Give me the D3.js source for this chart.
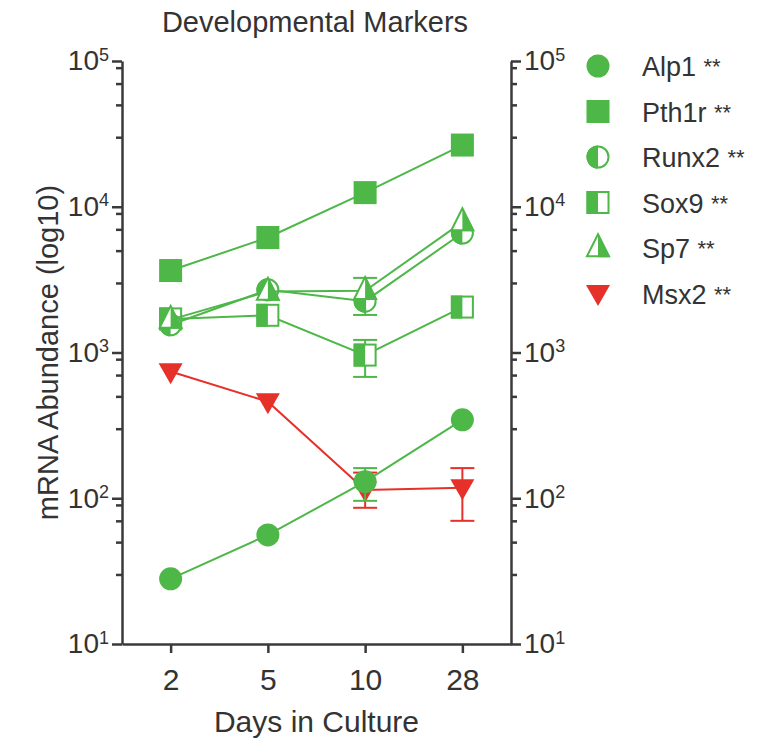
<!DOCTYPE html>
<html>
<head>
<meta charset="utf-8">
<script src="https://cdn.jsdelivr.net/npm/d3@7"></script>
<style>
  body { margin: 0; background: #fff; }
  svg { font-family: Arial, "Liberation Sans", sans-serif; }
</style>
</head>
<body>
<div id="chart"></div>
<script>
// days on the x axis
const days = ["2", "5", "10", "28"];

// mean mRNA abundance per marker
const alp1 = [28, 56, 130, 345];
const pth1r = [3650, 6150, 12500, 26500];
const runx2 = [1550, 2690, 2250, 6600];
const sox9 = [1700, 1800, 960, 2050];
const sp7 = [1680, 2620, 2650, 7850];
const msx2 = [740, 460, 114, 118];

// error bars [low, high], null where hidden under the marker
const alp1Err = [null, null, [96, 161], null];
const pth1rErr = [null, null, null, null];
const runx2Err = [null, null, null, null];
const sox9Err = [null, null, [680, 1220], null];
const sp7Err = [null, null, [1810, 3250], null];
const msx2Err = [null, null, [86, 150], [70, 161]];

const majorTicks = [1e1, 1e2, 1e3, 1e4, 1e5];
const minorSteps = [3, 5, 7, 9];

const green = "#4db748";
const red = "#e5312a";
const axisColor = "#3a3a3a";

const series = [
  { name: "Alp1", values: alp1, err: alp1Err, color: green, shape: "circle" },
  { name: "Pth1r", values: pth1r, err: pth1rErr, color: green, shape: "square" },
  { name: "Runx2", values: runx2, err: runx2Err, color: green, shape: "halfCircle" },
  { name: "Sox9", values: sox9, err: sox9Err, color: green, shape: "halfSquare" },
  { name: "Sp7", values: sp7, err: sp7Err, color: green, shape: "halfTriangle" },
  { name: "Msx2", values: msx2, err: msx2Err, color: red, shape: "triangleDown" }
];

const W = 773, H = 743;
const plotLeft = 122, plotRight = 511, plotTop = 61, plotBottom = 644;

const svg = d3.select("#chart").append("svg").attr("width", W).attr("height", H);

const x = d3.scalePoint().domain(days).range([plotLeft, plotRight]).padding(0.5);
const y = d3.scaleLog().domain([10, 1e5]).range([plotBottom, plotTop]);

// minor ticks: 3,5,7,9 times each decade
const minors = [];
[10, 100, 1000, 10000].forEach(d => minorSteps.forEach(s => minors.push(d * s)));

function supLabels(sel, anchor) {
  sel.selectAll(".tick text").each(function(d) {
    const t = d3.select(this);
    t.text(null).attr("fill", "#333").style("font-size", "28px").attr("text-anchor", anchor);
    t.append("tspan").text("10");
    t.append("tspan").attr("dy", "-0.55em").style("font-size", "18px").text(Math.round(Math.log10(d)));
  });
}

// left axis
const gL = svg.append("g").attr("transform", `translate(${plotLeft},0)`);
gL.call(d3.axisLeft(y).tickValues(majorTicks).tickSize(10).tickSizeOuter(0).tickPadding(3));
gL.call(supLabels, "end");
const gLm = svg.append("g").attr("transform", `translate(${plotLeft},0)`);
gLm.call(d3.axisLeft(y).tickValues(minors).tickSize(6).tickFormat(""));
gLm.select(".domain").remove();

// right axis
const gR = svg.append("g").attr("transform", `translate(${plotRight},0)`);
gR.call(d3.axisRight(y).tickValues(majorTicks).tickSize(10).tickSizeOuter(0).tickPadding(3));
gR.call(supLabels, "start");
const gRm = svg.append("g").attr("transform", `translate(${plotRight},0)`);
gRm.call(d3.axisRight(y).tickValues(minors).tickSize(6).tickFormat(""));
gRm.select(".domain").remove();

// bottom axis
const gB = svg.append("g").attr("transform", `translate(0,${plotBottom})`);
gB.call(d3.axisBottom(x).tickSize(9).tickSizeOuter(0).tickPadding(8));
gB.selectAll(".tick text").attr("fill", "#333").style("font-size", "30px").attr("dy", "0.95em");

svg.selectAll(".domain, .tick line").attr("stroke", axisColor).attr("stroke-width", 2.5);

// titles
svg.append("text").attr("x", 315).attr("y", 32).attr("text-anchor", "middle")
  .style("font-size", "29px").attr("fill", "#333").text("Developmental Markers");
svg.append("text").attr("x", (plotLeft + plotRight) / 2).attr("y", 732).attr("text-anchor", "middle")
  .style("font-size", "30px").attr("fill", "#333").text("Days in Culture");
svg.append("text").attr("transform", `translate(58,${(plotTop + plotBottom) / 2}) rotate(-90)`)
  .attr("text-anchor", "middle").style("font-size", "29px").attr("fill", "#333")
  .text("mRNA Abundance (log10)");

// marker drawing
function drawMarker(g, shape, color) {
  const r = 11.5;
  if (shape === "circle") {
    g.append("circle").attr("r", r).attr("fill", color);
  } else if (shape === "square") {
    g.append("rect").attr("x", -r).attr("y", -r).attr("width", 2 * r).attr("height", 2 * r).attr("fill", color);
  } else if (shape === "halfCircle") {
    g.append("circle").attr("r", r - 1).attr("fill", "#fff").attr("stroke", color).attr("stroke-width", 2);
    g.append("path").attr("d", `M0,${-r} A${r},${r} 0 0 0 0,${r} Z`).attr("fill", color);
  } else if (shape === "halfSquare") {
    g.append("rect").attr("x", -r + 1).attr("y", -r + 1).attr("width", 2 * r - 2).attr("height", 2 * r - 2)
      .attr("fill", "#fff").attr("stroke", color).attr("stroke-width", 2);
    g.append("rect").attr("x", -r).attr("y", -r).attr("width", r).attr("height", 2 * r).attr("fill", color);
  } else if (shape === "halfTriangle") {
    const h = 23, w = 24;
    g.append("path").attr("d", `M0,${-h * 0.6} L${w / 2 - 1},${h * 0.4 - 1} L${-w / 2 + 1},${h * 0.4 - 1} Z`)
      .attr("fill", "#fff").attr("stroke", color).attr("stroke-width", 2);
    g.append("path").attr("d", `M0,${-h * 0.6} L${w / 2},${h * 0.4} L0,${h * 0.4} Z`).attr("fill", color);
  } else if (shape === "triangleDown") {
    const h = 21, w = 24;
    g.append("path").attr("d", `M${-w / 2},${-h * 0.4} L${w / 2},${-h * 0.4} L0,${h * 0.6} Z`).attr("fill", color);
  }
}

// draw order: Msx2 first so green markers sit on top
const drawOrder = ["Msx2", "Sox9", "Runx2", "Sp7", "Pth1r", "Alp1"];
const line = d3.line().x((d, i) => x(days[i])).y(d => y(d));

drawOrder.forEach(name => {
  const s = series.find(d => d.name === name);
  const g = svg.append("g");
  g.append("path").attr("d", line(s.values)).attr("fill", "none")
    .attr("stroke", s.color).attr("stroke-width", 2);
  s.err.forEach((e, i) => {
    if (!e) return;
    const cx = x(days[i]);
    g.append("line").attr("x1", cx).attr("x2", cx).attr("y1", y(e[0])).attr("y2", y(e[1]))
      .attr("stroke", s.color).attr("stroke-width", 2);
    e.forEach(v => {
      g.append("line").attr("x1", cx - 12).attr("x2", cx + 12).attr("y1", y(v)).attr("y2", y(v))
        .attr("stroke", s.color).attr("stroke-width", 2);
    });
  });
  s.values.forEach((v, i) => {
    const m = g.append("g").attr("transform", `translate(${x(days[i])},${y(v)})`);
    drawMarker(m, s.shape, s.color);
  });
});

// legend
const legend = svg.append("g").attr("transform", "translate(598,66)");
series.forEach((s, i) => {
  const row = legend.append("g").attr("transform", `translate(0,${i * 45.5})`);
  drawMarker(row, s.shape, s.color);
  const t = row.append("text").attr("x", 44).attr("y", 10).attr("fill", "#333").style("font-size", "27px");
  t.append("tspan").text(s.name + " ");
  t.append("tspan").style("font-size", "22px").attr("dy", "-2").text("**");
});
</script>
</body>
</html>
